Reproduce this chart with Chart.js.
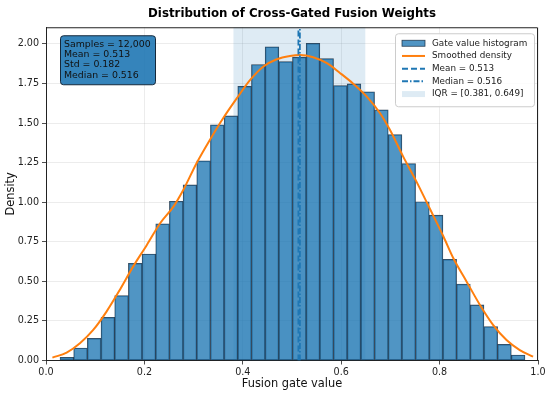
<!DOCTYPE html>
<html>
<head>
<meta charset="utf-8">
<script src="https://cdn.jsdelivr.net/npm/chart.js@4.4.1/dist/chart.umd.min.js"></script>
<style>
  html, body { margin: 0; padding: 0; background: #fff; }
  #wrap { width: 550px; height: 394px; }
</style>
</head>
<body>
<div id="wrap"><canvas id="chart" width="550" height="394"></canvas></div>
<script>
// Histogram (density), 34 bins between the sample min and max
const BIN_LO = 0.0285;
const BIN_HI = 0.9735;
const density = [
  0.020, 0.079, 0.140, 0.273, 0.410, 0.614, 0.673, 0.863, 1.006, 1.109,
  1.261, 1.489, 1.545, 1.732, 1.870, 1.981, 1.888, 1.916, 2.004, 1.907,
  1.737, 1.747, 1.697, 1.583, 1.427, 1.244, 1.003, 0.918, 0.639, 0.483,
  0.351, 0.214, 0.102, 0.035
];

// Smoothed density curve
const kdeX = [0.013, 0.042, 0.069, 0.096, 0.123, 0.150, 0.177, 0.205, 0.232, 0.259,
              0.279, 0.306, 0.333, 0.360, 0.388, 0.415, 0.442, 0.469, 0.496, 0.516,
              0.543, 0.571, 0.598, 0.625, 0.652, 0.679, 0.699, 0.726, 0.753, 0.780,
              0.808, 0.828, 0.855, 0.882, 0.909, 0.936, 0.963, 0.990];
const kdeY = [0.018, 0.050, 0.109, 0.193, 0.309, 0.446, 0.593, 0.730, 0.867, 0.972,
              1.077, 1.246, 1.393, 1.530, 1.657, 1.772, 1.857, 1.903, 1.924, 1.930,
              1.916, 1.878, 1.815, 1.747, 1.667, 1.562, 1.457, 1.288, 1.130, 0.960,
              0.782, 0.646, 0.498, 0.351, 0.224, 0.130, 0.066, 0.024];

// Summary stats
const MEAN = 0.513, MEDIAN = 0.516, STD = 0.182, SAMPLES = 12000;
const IQR = [0.381, 0.649];
const Y_MAX = 2.105;

const xTicks = [0, 0.2, 0.4, 0.6, 0.8, 1.0];

const FONT = "'DejaVu Sans', 'Liberation Sans', sans-serif";
const BLUE = "#1f77b4";
const ORANGE = "#ff7f0e";

const binW = (BIN_HI - BIN_LO) / density.length;
const histData = density.map((d, i) => ({ x: BIN_LO + binW * (i + 0.5), y: d }));
const kdeData = kdeX.map((x, i) => ({ x, y: kdeY[i] }));

const legendItems = [
  { kind: "box",  text: "Gate value histogram" },
  { kind: "line", text: "Smoothed density", color: ORANGE, dash: [] },
  { kind: "line", text: `Mean = ${MEAN.toFixed(3)}`, color: BLUE, dash: [6, 3] },
  { kind: "line", text: `Median = ${MEDIAN.toFixed(3)}`, color: BLUE, dash: [6, 2, 1.5, 2] },
  { kind: "iqr",  text: `IQR = [${IQR[0].toFixed(3)}, ${IQR[1].toFixed(3)}]` }
];

const statLines = [
  `Samples = ${SAMPLES.toLocaleString("en-US")}`,
  `Mean = ${MEAN.toFixed(3)}`,
  `Std = ${STD.toFixed(3)}`,
  `Median = ${MEDIAN.toFixed(3)}`
];

function roundRect(ctx, x, y, w, h, r) {
  ctx.beginPath();
  ctx.moveTo(x + r, y);
  ctx.lineTo(x + w - r, y);
  ctx.quadraticCurveTo(x + w, y, x + w, y + r);
  ctx.lineTo(x + w, y + h - r);
  ctx.quadraticCurveTo(x + w, y + h, x + w - r, y + h);
  ctx.lineTo(x + r, y + h);
  ctx.quadraticCurveTo(x, y + h, x, y + h - r);
  ctx.lineTo(x, y + r);
  ctx.quadraticCurveTo(x, y, x + r, y);
  ctx.closePath();
}

const decor = {
  id: "decor",
  beforeDatasetsDraw(chart) {
    const { ctx, chartArea: a, scales: { x } } = chart;
    ctx.save();
    ctx.fillStyle = "rgba(31,119,180,0.15)";
    const x0 = x.getPixelForValue(IQR[0]), x1 = x.getPixelForValue(IQR[1]);
    ctx.fillRect(x0, a.top, x1 - x0, a.bottom - a.top);
    ctx.restore();
  },
  afterDraw(chart) {
    const { ctx, chartArea: a } = chart;
    ctx.save();
    // top + right spines
    ctx.strokeStyle = "#222";
    ctx.lineWidth = 1;
    ctx.beginPath();
    ctx.moveTo(a.left, a.top + 0.5);
    ctx.lineTo(a.right - 0.5, a.top + 0.5);
    ctx.lineTo(a.right - 0.5, a.bottom);
    ctx.stroke();

    // stats box
    const sx = a.left + 14, sy = a.top + 8;
    roundRect(ctx, sx + 0.5, sy + 0.5, 95, 49, 3);
    ctx.fillStyle = "rgba(31,119,180,0.9)";
    ctx.fill();
    ctx.strokeStyle = "#15283b";
    ctx.lineWidth = 1;
    ctx.stroke();
    ctx.fillStyle = "#111";
    ctx.font = `9.4px ${FONT}`;
    ctx.textBaseline = "middle";
    ctx.textAlign = "left";
    statLines.forEach((t, i) => ctx.fillText(t, sx + 4, sy + 9 + i * 10.3));

    // legend
    const lw = 139, lh = 73;
    const lx = a.right - 4 - lw, ly = a.top + 6;
    roundRect(ctx, lx + 0.5, ly + 0.5, lw, lh, 3);
    ctx.fillStyle = "rgba(255,255,255,0.85)";
    ctx.fill();
    ctx.strokeStyle = "#cccccc";
    ctx.stroke();
    ctx.font = `8.8px ${FONT}`;
    legendItems.forEach((it, i) => {
      const cy = ly + 10 + i * 12.7;
      const hx = lx + 7, hw = 23;
      if (it.kind === "box") {
        ctx.fillStyle = "rgba(31,119,180,0.78)";
        ctx.fillRect(hx, cy - 3, hw, 6);
        ctx.strokeStyle = "rgba(20,40,60,0.85)";
        ctx.lineWidth = 0.8;
        ctx.strokeRect(hx, cy - 3, hw, 6);
      } else if (it.kind === "iqr") {
        ctx.fillStyle = "rgba(31,119,180,0.15)";
        ctx.fillRect(hx, cy - 3, hw, 6);
      } else {
        ctx.strokeStyle = it.color;
        ctx.lineWidth = 2;
        ctx.setLineDash(it.dash);
        ctx.beginPath();
        ctx.moveTo(hx, cy);
        ctx.lineTo(hx + hw, cy);
        ctx.stroke();
        ctx.setLineDash([]);
      }
      ctx.fillStyle = "#222";
      ctx.fillText(it.text, lx + 37, cy);
    });
    ctx.restore();
  }
};

new Chart(document.getElementById("chart").getContext("2d"), {
  data: {
    datasets: [
      {
        type: "bar",
        label: "Gate value histogram",
        data: histData,
        backgroundColor: "rgba(31,119,180,0.78)",
        borderColor: "rgba(20,40,60,0.85)",
        borderWidth: 0.8,
        borderSkipped: false,
        barPercentage: 1,
        categoryPercentage: 1,
        grouped: false,
        order: 4
      },
      {
        type: "line",
        label: "Smoothed density",
        data: kdeData,
        borderColor: ORANGE,
        borderWidth: 2,
        pointRadius: 0,
        cubicInterpolationMode: "monotone",
        fill: false,
        order: 3
      },
      {
        type: "line",
        label: "Mean",
        data: [{ x: MEAN, y: 0 }, { x: MEAN, y: Y_MAX }],
        borderColor: BLUE,
        borderWidth: 1.8,
        borderDash: [6, 3],
        pointRadius: 0,
        order: 1
      },
      {
        type: "line",
        label: "Median",
        data: [{ x: MEDIAN, y: 0 }, { x: MEDIAN, y: Y_MAX }],
        borderColor: BLUE,
        borderWidth: 1.8,
        borderDash: [6, 2, 1.5, 2],
        pointRadius: 0,
        order: 1
      }
    ]
  },
  options: {
    responsive: false,
    devicePixelRatio: 1,
    animation: false,
    layout: { padding: { left: 0, right: 12, top: 0, bottom: 0 } },
    plugins: {
      legend: { display: false },
      tooltip: { enabled: false },
      title: {
        display: true,
        fullSize: false,
        text: "Distribution of Cross-Gated Fusion Weights",
        color: "#000",
        font: { family: FONT, size: 11.8, weight: "bold" },
        padding: { top: 7, bottom: 6.1 }
      }
    },
    scales: {
      x: {
        type: "linear",
        offset: false,
        min: 0, max: 1,
        afterFit: s => { s.height = 33.5; },
        afterBuildTicks: s => { s.ticks = xTicks.map(v => ({ value: v })); },
        ticks: { color: "#222", font: { family: FONT, size: 9.6 }, padding: 2,
                 callback: v => Number(v).toFixed(1) },
        grid: { offset: false, color: "rgba(176,176,176,0.3)", lineWidth: 0.8, tickColor: "#222", tickLength: 4 },
        border: { display: true, color: "#222", width: 1 },
        title: { display: true, text: "Fusion gate value", color: "#111",
                 font: { family: FONT, size: 11.4 }, padding: { top: 2, bottom: 3 } }
      },
      y: {
        min: 0, max: Y_MAX,
        afterFit: s => { s.width = 46; },
        ticks: { stepSize: 0.25, includeBounds: false, color: "#222",
                 font: { family: FONT, size: 9.6 }, padding: 3,
                 callback: v => Number(v).toFixed(2) },
        grid: { color: "rgba(176,176,176,0.3)", lineWidth: 0.8, tickColor: "#222", tickLength: 4 },
        border: { display: true, color: "#222", width: 1 },
        title: { display: true, text: "Density", color: "#111",
                 font: { family: FONT, size: 11.4 }, padding: { top: 4, bottom: 2 } }
      }
    }
  },
  plugins: [decor]
});
</script>
</body>
</html>
